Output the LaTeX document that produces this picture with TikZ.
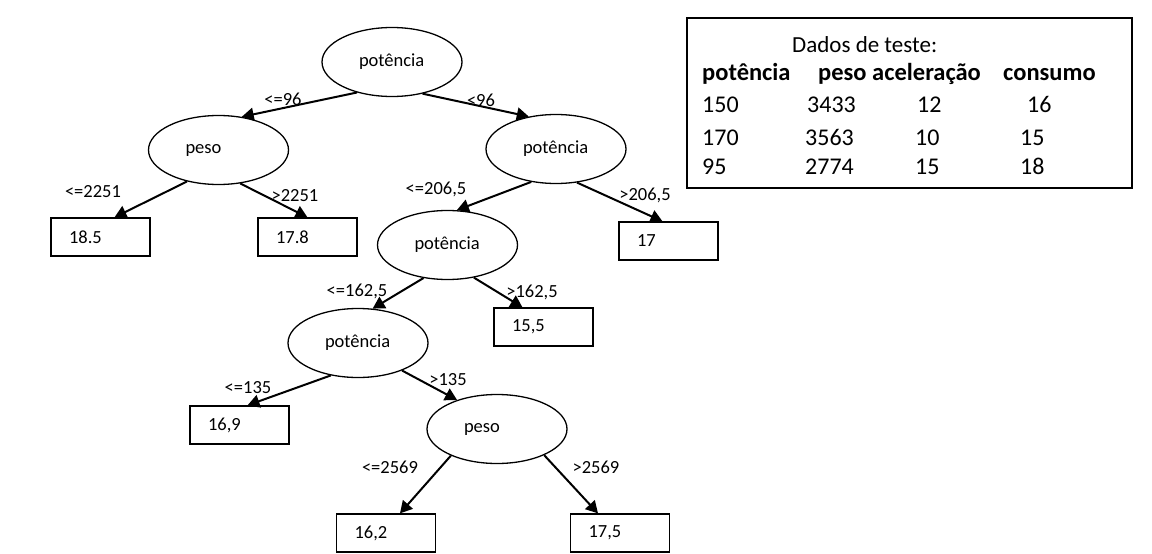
\documentclass[tikz,border=0pt]{standalone}
\usepackage{fontspec}
\setmainfont{Carlito}
\usetikzlibrary{arrows.meta, shapes.geometric, positioning}
\definecolor{ink}{HTML}{000000}
\tikzset{
  test/.style  = {ellipse, draw=ink, line width=1.3pt, inner sep=0pt,
                  minimum width=140pt, minimum height=69pt,
                  text width=66pt, align=left,
                  font=\fontsize{18.5}{22}\selectfont},
  leaf/.style  = {draw=ink, line width=1.3pt, minimum height=38pt,
                  text width=63pt, inner xsep=18pt, align=left,
                  font=\fontsize{18.5}{22}\selectfont},
  cond/.style  = {inner sep=0pt, font=\fontsize{18.5}{22}\selectfont},
  arr/.style   = {-{Triangle[length=12pt, width=13pt]}, line width=2pt, ink},
  tabl/.style  = {inner sep=0pt, anchor=base west,
                  font=\fontsize{24}{28}\selectfont},
}

\begin{document}
\begin{tikzpicture}[x=1pt, y=-1pt]
  \useasboundingbox (0,0) rectangle (1152,554);

  % tree
  \node[test] (root) at (392,62)    {\raisebox{3pt}{potência}};
  \node[test] (peso) at (218.5,150) {peso};
  \node[test] (pot2) at (556,149)   {potência};
  \node[test] (pot3) at (447.5,245) {potência};
  \node[test] (pot4) at (358,343)   {potência};
  \node[test] (peso5) at (497,429)  {peso};

  \node[leaf] (b185) at (100.5,237) {18.5};
  \node[leaf] (b178) at (307.5,237) {17.8};
  \node[leaf] (b17)  at (668.5,241) {17};
  \node[leaf] (b155) at (543.5,327) {15,5};
  \node[leaf] (b169) at (239.5,425) {16,9};
  \node[leaf] (b162) at (386,533)   {16,2};
  \node[leaf] (b175) at (620,533)   {17,5};

  % edges: from anchor / to anchor / shift of the head
  \foreach \a/\b/\s in {root.221/peso.55/0, root.314/pot2.130/0,
                        peso.225/b185.north/14, peso.303/b178.north/0,
                        pot2.233/pot3.75/0, pot2.302/b17.north/-6,
                        pot3.234/pot4.67/0, pot3.309/b155.north/-21,
                        pot4.230/b169.north/8, pot4.328/peso5.144/0,
                        peso5.210/b162.north/14, peso5.331/b175.north/-22}
    \draw[arr] (\a) -- ([xshift=\s pt]\b);

  % split values
  \node[cond] (c1)  at (283,99)  {<=96};
  \node[cond] (c2)  at (481,100) {<96};
  \node[cond] (c3)  at (93,192)  {<=2251};
  \node[cond] (c4)  at (295,196) {>2251};
  \node[cond] (c5)  at (436,189) {<=206,5};
  \node[cond] (c6)  at (645,195) {>206,5};
  \node[cond] (c7)  at (357,291) {<=162,5};
  \node[cond] (c8)  at (532,292) {>162,5};
  \node[cond] (c9)  at (248,388) {<=135};
  \node[cond] (c10) at (448,380) {>135};
  \node[cond] (c11) at (390,467) {<=2569};
  \node[cond] (c12) at (596,467) {>2569};

  % test data
  \node[draw=ink, line width=1.3pt, minimum width=445pt, minimum height=170pt,
        inner sep=0pt] (frame) at (909.5,103) {};
  \node[tabl, font=\fontsize{23}{27}\selectfont] (title) at (792,52)
    {Dados de teste:};
  \node[tabl, font=\fontsize{24.5}{29}\selectfont\bfseries] (head) at (702,80)
    {\makebox[116pt][l]{potência}\makebox[54pt][l]{peso}\makebox[131pt][l]{aceleração}consumo};
  \node[tabl] (row1) at (702,112)
    {\makebox[105pt][l]{150}\makebox[110pt][l]{3433}\makebox[110pt][l]{12}16};
  \node[tabl] (row2) at (702,145)
    {\makebox[103pt][l]{170}\makebox[110pt][l]{3563}\makebox[105pt][l]{10}15};
  \node[tabl] (row3) at (702,174)
    {\makebox[103pt][l]{95}\makebox[110pt][l]{2774}\makebox[105pt][l]{15}18};

\end{tikzpicture}
\end{document}
